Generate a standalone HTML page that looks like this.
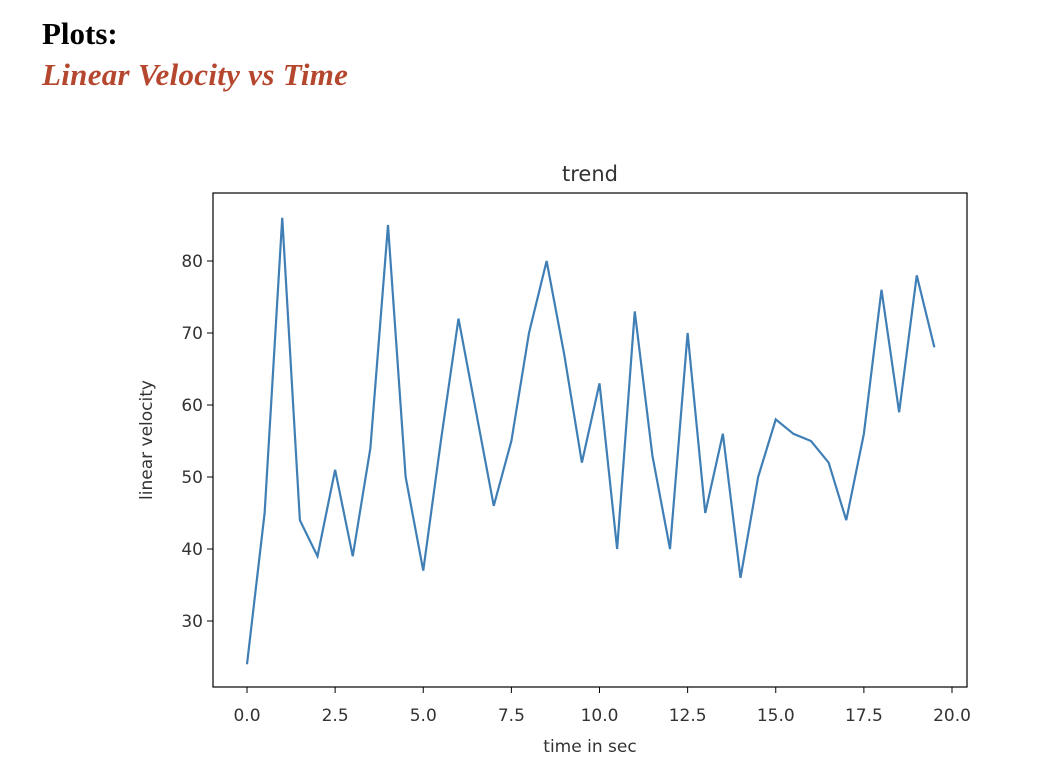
<!DOCTYPE html>
<html><head><meta charset="utf-8"><style>
body{margin:0;background:#fff;width:1046px;height:780px;overflow:hidden;position:relative;font-family:"Liberation Serif",serif}
#h1{position:absolute;left:42px;top:16px;font-size:31px;font-weight:bold;color:#000}
#h2{position:absolute;left:42px;top:57px;font-size:31px;font-weight:bold;font-style:italic;color:#b5472f;letter-spacing:0.3px}
svg{position:absolute;left:0;top:0}
svg text{font-family:"DejaVu Sans","Liberation Sans",sans-serif;fill:#333}
</style></head><body>
<div id="h1">Plots:</div>
<div id="h2">Linear Velocity vs Time</div>
<svg id="c" width="1046" height="780"></svg>
<script>
const times=[0,0.5,1,1.5,2,2.5,3,3.5,4,4.5,5,5.5,6,6.5,7,7.5,8,8.5,9,9.5,10,10.5,11,11.5,12,12.5,13,13.5,14,14.5,15,15.5,16,16.5,17,17.5,18,18.5,19,19.5];
const velocity=[24,45,86,44,39,51,39,54,85,50,37,55,72,59,46,55,70,80,67,52,63,40,73,53,40,70,45,56,36,50,58,56,55,52,44,56,76,59,78,68];
const xTicks=[0,2.5,5,7.5,10,12.5,15,17.5,20];
const xTickLabels=["0.0","2.5","5.0","7.5","10.0","12.5","15.0","17.5","20.0"];
const yTicks=[30,40,50,60,70,80];
const NS="http://www.w3.org/2000/svg";
const svg=document.getElementById('c');
const L=213,R=967,T=193,B=687;
const xs=v=>247+(v-0)*(952-247)/20;
const ys=v=>621-(v-30)*(621-261)/50;
function mk(t,a,p){const e=document.createElementNS(NS,t);for(const k in a)e.setAttribute(k,a[k]);(p||svg).appendChild(e);return e;}
const frame=mk('rect',{x:L,y:T,width:R-L,height:B-T,fill:'none',stroke:'#000','stroke-width':1.2});


xTicks.forEach((v,i)=>{const x=xs(v);
 const l=mk('line',{x1:x,x2:x,y1:B,y2:B+6,stroke:'#000'});
 
 
 const t=mk('text',{x:x,y:B+34,'text-anchor':'middle','font-size':17});t.textContent=xTickLabels[i];
 
 
});
yTicks.forEach(v=>{const y=ys(v);
 const l=mk('line',{x1:L-6,x2:L,y1:y,y2:y,stroke:'#000'});
 
 
 const t=mk('text',{x:L-10,y:y+6,'text-anchor':'end','font-size':17});t.textContent=v;
 
 
});
const pl=mk('polyline',{points:times.map((t,i)=>xs(t)+','+ys(velocity[i])).join(' '),fill:'none',stroke:'#3f7fb6','stroke-width':2.2,'stroke-linejoin':'miter'});


const ti=mk('text',{x:(L+R)/2,y:181,'text-anchor':'middle','font-size':21});ti.textContent='trend';


const xl=mk('text',{x:(L+R)/2,y:752,'text-anchor':'middle','font-size':17});xl.textContent='time in sec';


const yl=mk('text',{x:0,y:0,'text-anchor':'middle','font-size':17,transform:'translate(152,440) rotate(-90)'});yl.textContent='linear velocity';


</script>
</body></html>
